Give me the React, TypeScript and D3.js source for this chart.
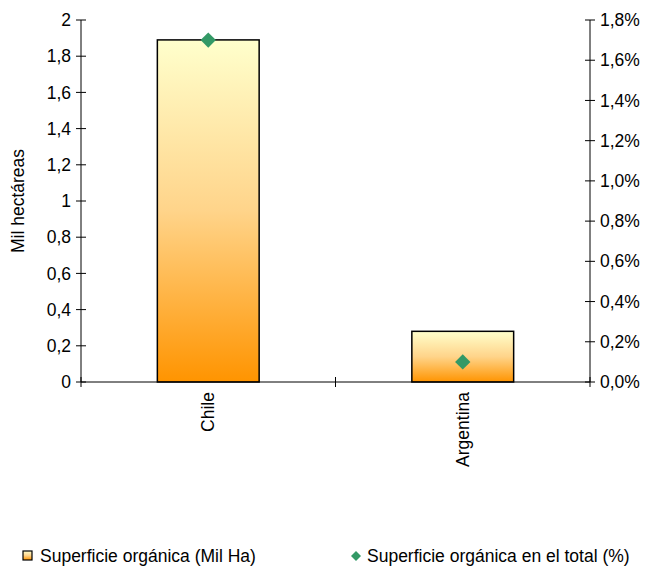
import React from "react";
import * as d3 from "d3";

const categories = ["Chile", "Argentina"];
const superficieMilHa = [1.89, 0.28];
const superficiePct = [0.017, 0.001];
const leftTicks = [0, 0.2, 0.4, 0.6, 0.8, 1, 1.2, 1.4, 1.6, 1.8, 2];
const rightTicks = [0, 0.002, 0.004, 0.006, 0.008, 0.01, 0.012, 0.014, 0.016, 0.018];
const seriesNames = ["Superficie orgánica (Mil Ha)", "Superficie orgánica en el total (%)"];
const yTitle = "Mil hectáreas";

const W = 646;
const H = 569;
const left = 81;
const right = 590;
const top = 20;
const bottom = 382;
const FONT = "'Liberation Sans', Arial, sans-serif";
const FS = 17.5;

export default function App() {
  const x = d3.scaleBand<string>().domain(categories).range([left, right]).padding(0);
  const yL = d3.scaleLinear().domain([0, 2]).range([bottom, top]);
  const yR = d3.scaleLinear().domain([0, 0.018]).range([bottom, top]);
  const bw = x.bandwidth() * 0.4;
  const fmtL = (v: number) => d3.format("~g")(+v.toFixed(1)).replace(".", ",");
  const fmtR = (v: number) => d3.format(".1%")(v).replace(".", ",");
  const diamond = d3.symbol().type(d3.symbolDiamond2).size(150)();
  const diamondSmall = d3.symbol().type(d3.symbolDiamond2).size(64)();

  const catTicks = [left, ...categories.slice(1).map((c) => x(c)!), right];

  return (
    <svg width={W} height={H} style={{ position: "absolute", left: 0, top: 0 }} fontFamily={FONT}>
      <defs>
        <linearGradient id="barGrad" x1="0" y1="0" x2="0" y2="1">
          <stop offset="0" stopColor="#FFFFCC" />
          <stop offset="0.5" stopColor="#FFD48A" />
          <stop offset="1" stopColor="#FF9400" />
        </linearGradient>
      </defs>
      <rect width={W} height={H} fill="#fff" />

      {/* bars */}
      {categories.map((c, i) => (
        <rect
          key={c}
          x={x(c)! + (x.bandwidth() - bw) / 2}
          y={yL(superficieMilHa[i])}
          width={bw}
          height={bottom - yL(superficieMilHa[i])}
          fill="url(#barGrad)"
          stroke="#000"
          strokeWidth={1.5}
        />
      ))}

      {/* axes */}
      <line x1={left} y1={top} x2={left} y2={bottom} stroke="#000" />
      <line x1={right} y1={top} x2={right} y2={bottom} stroke="#000" />
      <line x1={left} y1={bottom} x2={right} y2={bottom} stroke="#000" />

      {leftTicks.map((t) => (
        <g key={"l" + t}>
          <line x1={left - 5} x2={left + 5} y1={yL(t)} y2={yL(t)} stroke="#000" />
          <text x={left - 10} y={yL(t)} dy="0.35em" textAnchor="end" fontSize={FS}>
            {fmtL(t)}
          </text>
        </g>
      ))}
      {rightTicks.map((t) => (
        <g key={"r" + t}>
          <line x1={right - 5} x2={right + 5} y1={yR(t)} y2={yR(t)} stroke="#000" />
          <text x={right + 10} y={yR(t)} dy="0.35em" textAnchor="start" fontSize={FS}>
            {fmtR(t)}
          </text>
        </g>
      ))}
      {catTicks.map((cx, i) => (
        <line key={"c" + i} x1={cx} x2={cx} y1={bottom - 5} y2={bottom + 5} stroke="#000" />
      ))}

      {categories.map((c) => {
        const cx = x(c)! + x.bandwidth() / 2;
        return (
          <text
            key={"t" + c}
            transform={`translate(${cx + 6},${bottom + 10}) rotate(-90)`}
            textAnchor="end"
            fontSize={FS}
          >
            {c}
          </text>
        );
      })}

      <text transform={`translate(24,${(top + bottom) / 2}) rotate(-90)`} textAnchor="middle" fontSize={FS}>
        {yTitle}
      </text>

      {/* diamonds */}
      {categories.map((c, i) => (
        <path
          key={"d" + c}
          d={diamond!}
          transform={`translate(${x(c)! + x.bandwidth() / 2},${yR(superficiePct[i])})`}
          fill="#339966"
        />
      ))}

      {/* legend */}
      <rect x={23} y={551} width={9} height={9} fill="url(#barGrad)" stroke="#000" strokeWidth={1.2} />
      <text x={40} y={556} dy="0.35em" fontSize={FS}>
        {seriesNames[0]}
      </text>
      <path d={diamondSmall!} transform="translate(356,556)" fill="#339966" />
      <text x={367} y={556} dy="0.35em" fontSize={FS}>
        {seriesNames[1]}
      </text>
    </svg>
  );
}
